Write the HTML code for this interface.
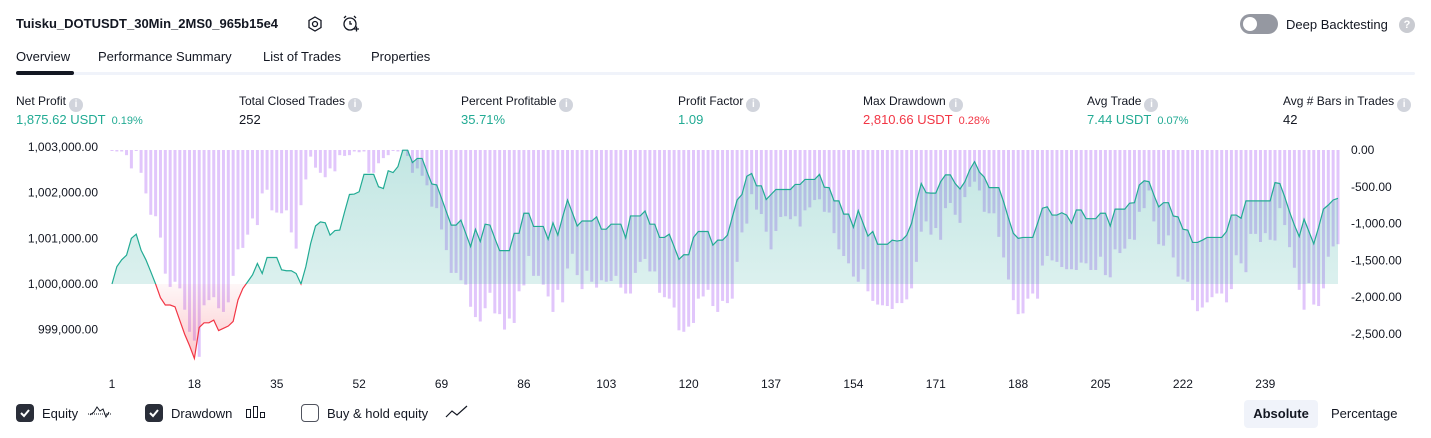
<!DOCTYPE html>
<html><head><meta charset="utf-8">
<style>
*{margin:0;padding:0;box-sizing:border-box}
body{width:1431px;height:438px;overflow:hidden;background:#fff;font-family:"Liberation Sans",sans-serif;color:#131722;position:relative}
.a{position:absolute;white-space:nowrap}
.title{left:16px;top:16px;font-size:13px;font-weight:bold}
.tab{top:49px;font-size:13px}
.lbl{top:94px;font-size:12px}
.val{top:112px;font-size:13px}
.val small{font-size:11px;margin-left:6px}
.info{display:inline-block;width:14px;height:14px;border-radius:50%;background:#d1d4dc;color:#fff;font-size:10px;text-align:center;line-height:14px;font-weight:bold;margin-left:3px;vertical-align:-2px}
.g{color:#22ab94}.r{color:#f23645}
.cb{top:404px;width:18px;height:18px;border-radius:4px}
.cbon{background:#2a2e39}
.cboff{border:1.5px solid #50535e;background:#fff}
.bl{top:406px;font-size:13px}
</style></head><body>
<div class="a title">Tuisku_DOTUSDT_30Min_2MS0_965b15e4</div>
<svg class="a" style="left:306px;top:15px" width="18" height="18"><polygon points="9,2 15,5.5 15,12.5 9,16 3,12.5 3,5.5" fill="none" stroke="#131722" stroke-width="1.3"/><circle cx="9" cy="9" r="2.5" fill="none" stroke="#131722" stroke-width="1.3"/></svg>
<svg class="a" style="left:341px;top:14px" width="20" height="20"><circle cx="9" cy="10" r="6" fill="none" stroke="#131722" stroke-width="1.3"/><path d="M9 7v3h2M3 4l2-2M15 4l-2-2M13 15h5M15.5 12.5v5" fill="none" stroke="#131722" stroke-width="1.3"/></svg>
<div class="a" style="left:1240px;top:14px;width:38px;height:20px;border-radius:10px;background:#9598a1"><div style="position:absolute;left:3px;top:3px;width:14px;height:14px;border-radius:50%;background:#fff"></div></div>
<div class="a" style="left:1286px;top:17px;font-size:13px">Deep Backtesting</div>
<div class="a" style="left:1399px;top:17px;width:16px;height:16px;border-radius:50%;background:#c9cbd1;color:#fff;font-size:11px;font-weight:bold;text-align:center;line-height:16px">?</div>

<div class="a tab" style="left:16px">Overview</div>
<div class="a tab" style="left:98px">Performance Summary</div>
<div class="a tab" style="left:263px">List of Trades</div>
<div class="a tab" style="left:371px">Properties</div>
<div class="a" style="left:16px;top:72px;width:1399px;height:3px;background:#f0f3fa;border-radius:2px"></div>
<div class="a" style="left:16px;top:71px;width:58px;height:4px;background:#131722;border-radius:2px"></div>

<div class="a lbl" style="left:16px">Net Profit<span class="info">i</span></div>
<div class="a val g" style="left:16px">1,875.62 USDT<small>0.19%</small></div>
<div class="a lbl" style="left:239px">Total Closed Trades<span class="info">i</span></div>
<div class="a val" style="left:239px">252</div>
<div class="a lbl" style="left:461px">Percent Profitable<span class="info">i</span></div>
<div class="a val g" style="left:461px">35.71%</div>
<div class="a lbl" style="left:678px">Profit Factor<span class="info">i</span></div>
<div class="a val g" style="left:678px">1.09</div>
<div class="a lbl" style="left:863px">Max Drawdown<span class="info">i</span></div>
<div class="a val r" style="left:863px">2,810.66 USDT<small>0.28%</small></div>
<div class="a lbl" style="left:1087px">Avg Trade<span class="info">i</span></div>
<div class="a val g" style="left:1087px">7.44 USDT<small>0.07%</small></div>
<div class="a lbl" style="left:1283px">Avg # Bars in Trades<span class="info">i</span></div>
<div class="a val" style="left:1283px">42</div>

<svg id="chart" class="a" style="left:0;top:0" width="1431" height="400">
<defs>
<linearGradient id="gg" x1="0" y1="0" x2="0" y2="1"><stop offset="0" stop-color="#26a69a" stop-opacity="0.28"/><stop offset="1" stop-color="#26a69a" stop-opacity="0.1"/></linearGradient>
<linearGradient id="rg" gradientUnits="userSpaceOnUse" x1="0" y1="284" x2="0" y2="360"><stop offset="0" stop-color="#f23645" stop-opacity="0.04"/><stop offset="1" stop-color="#f23645" stop-opacity="0.28"/></linearGradient>
<clipPath id="above"><rect x="0" y="0" width="1431" height="284"/></clipPath>
<clipPath id="below"><rect x="0" y="284" width="1431" height="120"/></clipPath>
</defs>
</svg>

<div class="a cb cbon" style="left:16px"><svg width="18" height="18"><path d="M5 9l3 3 5-6" fill="none" stroke="#fff" stroke-width="2"/></svg></div>
<div class="a bl" style="left:42px">Equity</div>
<svg class="a" style="left:87px;top:404px" width="26" height="16"><path d="M1 10h24" stroke="#131722" stroke-dasharray="1,1"/><path d="M3 11l4-3 3-5 3 4 3-2 3 8 3-5" fill="none" stroke="#131722"/></svg>
<div class="a cb cbon" style="left:145px"><svg width="18" height="18"><path d="M5 9l3 3 5-6" fill="none" stroke="#fff" stroke-width="2"/></svg></div>
<div class="a bl" style="left:171px">Drawdown</div>
<svg class="a" style="left:245px;top:405px" width="22" height="14"><rect x="1.5" y="4.5" width="4" height="8" fill="none" stroke="#131722"/><rect x="8.5" y="1.5" width="4" height="11" fill="none" stroke="#131722"/><rect x="15.5" y="7.5" width="4" height="5" fill="none" stroke="#131722"/></svg>
<div class="a cb cboff" style="left:301px"></div>
<div class="a bl" style="left:327px">Buy &amp; hold equity</div>
<svg class="a" style="left:445px;top:405px" width="24" height="14"><path d="M1 12l6-6 5 4 10-9" fill="none" stroke="#131722" stroke-width="1.2"/></svg>
<div class="a" style="left:1244px;top:400px;width:74px;height:28px;border-radius:4px;background:#f0f3fa;font-size:13px;font-weight:bold;text-align:center;line-height:28px">Absolute</div>
<div class="a" style="left:1331px;top:406px;font-size:13px">Percentage</div>

<script>
const equity = [1000000,1000380,1000530,1000630,1001000,1001090,1000740,1000530,1000270,1000000,
999700,999540,999540,999500,999200,998900,998650,998370,999050,999150,
999150,999210,998980,999030,999080,999180,999650,999900,1000050,1000200,
1000450,1000230,1000580,1000580,1000580,1000310,1000290,1000290,1000230,1000000,
1000380,1000890,1001270,1001360,1001340,1001070,1001170,1001180,1001580,1001960,
1001970,1002020,1002400,1002400,1002400,1002130,1002090,1002480,1002440,1002570,
1002930,1002930,1002660,1002750,1002750,1002460,1002190,1002170,1001880,1001580,
1001290,1001290,1001400,1001110,1000820,1001200,1000930,1001310,1001290,1001000,
1000730,1000730,1000730,1001110,1001110,1001550,1001550,1001260,1001260,1001260,
1000980,1001340,1001070,1001470,1001840,1001560,1001270,1001380,1001380,1001380,
1001470,1001200,1001200,1001310,1001310,1001310,1001010,1001490,1001490,1001490,
1001600,1001310,1001310,1001020,1001020,1001090,1000820,1000540,1000640,1000640,
1001020,1001150,1001150,1001150,1000850,1000960,1000960,1001070,1001460,1001840,
1001960,1002360,1002420,1002150,1002150,1001850,1001960,1002070,1002070,1002070,
1002070,1002180,1002180,1002290,1002290,1002290,1002400,1002120,1002110,1001820,
1001820,1001530,1001530,1001240,1001610,1001330,1001050,1001150,1000870,1000870,
1000870,1000960,1000940,1000960,1001070,1001330,1001800,1002200,1002000,1001990,
1001990,1002240,1002390,1002390,1002200,1002080,1002240,1002500,1002680,1002450,
1002340,1002110,1002110,1002110,1001800,1001440,1001110,1001000,1001020,1001020,
1001020,1001330,1001660,1001690,1001510,1001510,1001560,1001510,1001330,1001620,
1001620,1001430,1001430,1001430,1001550,1001550,1001270,1001640,1001640,1001640,
1001770,1001780,1002170,1002260,1002240,1001950,1001690,1001780,1001780,1001490,
1001470,1001200,1001180,1000910,1000910,1000960,1001020,1001020,1001020,1001020,
1001150,1001510,1001510,1001440,1001820,1001820,1001820,1001820,1001820,1001820,
1002220,1002200,1001910,1001580,1001290,1001040,1001420,1001150,1000880,1001240,
1001640,1001730,1001840,1001876];
const drawdown = [-10,-20,-20,-70,-250,0,-310,-590,-880,-900,
-1190,-1680,-1860,-1790,-1880,-2170,-2470,-2590,-2810,-2110,
-2040,-2000,-2150,-2200,-2070,-1710,-1350,-1330,-1150,-930,
-1020,-590,-540,-820,-850,-860,-820,-1120,-1340,-750,
-400,-90,-240,-310,-370,-250,-290,-70,-80,-70,
-20,-30,-20,-310,-310,-180,-110,-70,0,-20,
0,-80,-310,-250,-350,-480,-770,-790,-1080,-1360,
-1670,-1670,-1770,-1830,-2130,-2270,-2330,-2150,-1940,-2220,
-2230,-2440,-2290,-2350,-1920,-1840,-1440,-1710,-1710,-1830,
-1990,-2200,-1900,-2070,-1610,-1410,-1700,-1890,-1640,-1790,
-1870,-1770,-1790,-1780,-1710,-1870,-1950,-1950,-1670,-1520,
-1480,-1650,-1650,-1940,-2000,-2020,-2140,-2450,-2470,-2400,
-2350,-2020,-1990,-1900,-2120,-2200,-2050,-2080,-2020,-1520,
-1120,-1000,-600,-810,-870,-1110,-1350,-1100,-910,-900,
-940,-900,-1040,-820,-780,-680,-670,-840,-850,-1130,
-1350,-1440,-1540,-1720,-1790,-1620,-1920,-2050,-2100,-2110,
-2120,-2160,
-2080,-2080,-2030,-1880,-1520,-1110,-970,-1150,-1060,-1220,
-790,-720,-880,-990,-640,-500,-430,-550,-840,-860,
-860,-1180,-1460,-1760,-2040,-2230,-2220,-2020,-1950,-2020,
-1570,-1440,-1500,-1520,-1590,-1620,-1620,-1630,-1530,-1540,
-1630,-1630,-1450,-1700,-1730,-1350,-1400,-1340,-1210,-1220,
-840,-790,-550,-970,-1280,-1300,-1160,-1460,-1720,-1760,
-1790,-2040,-2190,-2140,-2070,-2000,-1950,-1950,-2070,-1890,
-1430,-1540,-1660,-1140,-1140,-1250,-1130,-1220,-1230,-790,
-1020,-1320,-1600,-1900,-2170,-1810,-2100,-2120,-1880,-1450,
-1310,-1280];
const equityTicks = [1003000,1002000,1001000,1000000,999000];
const equityTickLabels = ["1,003,000.00","1,002,000.00","1,001,000.00","1,000,000.00","999,000.00"];
const ddTicks = [0,-500,-1000,-1500,-2000,-2500];
const ddTickLabels = ["0.00","-500.00","-1,000.00","-1,500.00","-2,000.00","-2,500.00"];
const xTicks = [1,18,35,52,69,86,103,120,137,154,171,188,205,222,239];

const NS="http://www.w3.org/2000/svg";
const svg=document.getElementById('chart');
const n=equity.length;
const X0=112, X1=1338;
function xs(i){return X0+(i)*(X1-X0)/(n-1);}
function ye(v){return 284-(v-1000000)*(137/3000);}
function yd(v){return 150-v*(184/2500);}
function mk(tag,attrs){const e=document.createElementNS(NS,tag);for(const k in attrs)e.setAttribute(k,attrs[k]);svg.appendChild(e);return e;}

for(let i=0;i<drawdown.length;i++){
  const y0=yd(0), y1=yd(drawdown[i]);
  const r=mk('rect',{x:(xs(i)-1.5).toFixed(2),y:y0,width:3,height:Math.max(1,y1-y0).toFixed(2),fill:'#dcbcfa','fill-opacity':'0.85'});
  
  
}
let pts=equity.map((v,i)=>xs(i).toFixed(2)+','+ye(v).toFixed(2)).join(' L');
const base=ye(1000000);
const areaD='M'+xs(0)+','+base+' L'+pts+' L'+xs(n-1)+','+base+' Z';
const ag=mk('path',{d:areaD,fill:'url(#gg)','clip-path':'url(#above)'});


const ar=mk('path',{d:areaD,fill:'url(#rg)','clip-path':'url(#below)'});


const lg=mk('path',{d:'M'+pts,fill:'none',stroke:'#22ab94','stroke-width':1.2,'clip-path':'url(#above)'});


const lr=mk('path',{d:'M'+pts,fill:'none',stroke:'#f23645','stroke-width':1.2,'clip-path':'url(#below)'});



equityTicks.forEach((v,i)=>{
  const t=mk('text',{x:98,y:ye(v)+4,'text-anchor':'end','font-size':12,fill:'#131722','font-family':'Liberation Sans, sans-serif'});
  t.textContent=equityTickLabels[i];
  
  
});
ddTicks.forEach((v,i)=>{
  const t=mk('text',{x:1351,y:yd(v)+4,'font-size':12,fill:'#131722','font-family':'Liberation Sans, sans-serif'});
  t.textContent=ddTickLabels[i];
  
  
});
xTicks.forEach(v=>{
  const t=mk('text',{x:xs(v-1),y:388,'text-anchor':'middle','font-size':12,fill:'#131722','font-family':'Liberation Sans, sans-serif'});
  t.textContent=v;
  
  
});
</script>
</body></html>
